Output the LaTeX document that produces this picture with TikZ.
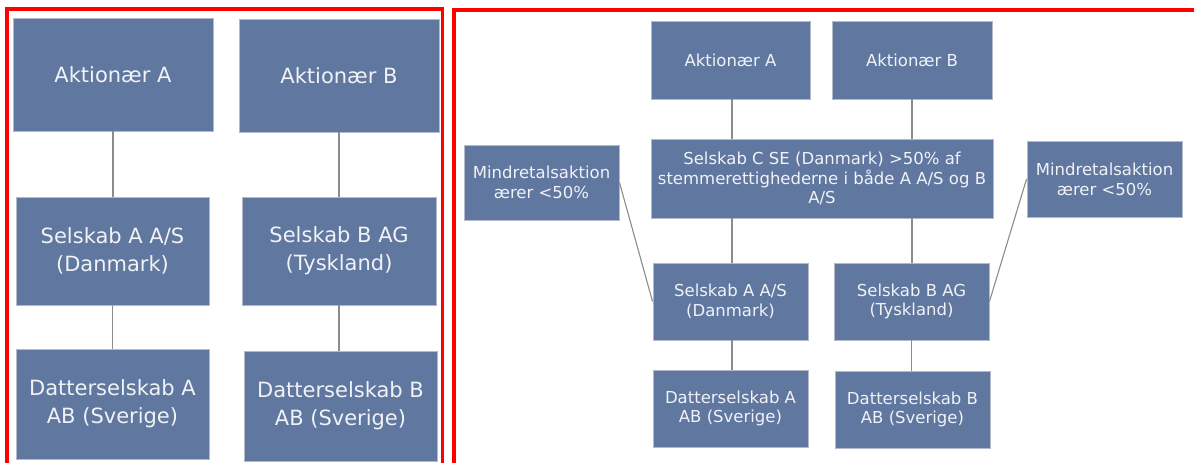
\documentclass[tikz,border=0pt]{standalone}
\usepackage{fontspec}
\setmainfont{DejaVu Sans}
\definecolor{boxfill}{RGB}{96,119,160}
\definecolor{boxedge}{RGB}{178,186,200}
\definecolor{boxtext}{RGB}{240,242,246}
\definecolor{linkgray}{RGB}{140,140,140}
\definecolor{framered}{RGB}{255,0,0}
\tikzset{
  orgbox/.style={draw=boxedge, line width=0.9pt, fill=boxfill, text=boxtext,
    align=center, inner sep=0pt, anchor=center},
  bigbox/.style={orgbox, font=\fontsize{21}{28}\selectfont},
  smallbox/.style={orgbox, font=\fontsize{16.5}{19.8}\selectfont},
  link/.style={draw=linkgray, line width=1.4pt},
  frame/.style={draw=framered, line width=3.6pt}
}
\begin{document}
\begin{tikzpicture}[x=1pt, y=-1pt]
\useasboundingbox (0,0) rectangle (1194,463);
\fill[white] (0,0) rectangle (1194,463);

% two framed panels
\draw[frame] (6.8,475) -- (6.8,8.8) -- (442.6,8.8) -- (442.6,475);
\draw[frame] (1200,10) -- (454,10) -- (454,475);

% left panel: two separate chains
\node[bigbox, minimum width=200pt, minimum height=113pt] (LAA) at (113,74.5) {Aktionær A};
\node[bigbox, minimum width=200pt, minimum height=113pt] (LAB) at (339,75.5) {Aktionær B};
\node[bigbox, minimum width=193pt, minimum height=108pt] (LSA) at (112.5,251) {Selskab A A/S\\(Danmark)};
\node[bigbox, minimum width=194pt, minimum height=108pt] (LSB) at (339,251) {Selskab B AG\\(Tyskland)};
\node[bigbox, minimum width=193pt, minimum height=110pt] (LDA) at (112.5,404) {Datterselskab A\\AB (Sverige)};
\node[bigbox, minimum width=193pt, minimum height=110pt] (LDB) at (340.5,406) {Datterselskab B\\AB (Sverige)};

\draw[link] (LAA.south) -- (LAA.south |- LSA.north);
\draw[link] (LSA.south) -- (LSA.south |- LDA.north);
\draw[link] (LAB.south) -- (LAB.south |- LSB.north);
\draw[link] (LSB.south) -- (LSB.south |- LDB.north);

% right panel: common holding company C
\node[smallbox, minimum width=159pt, minimum height=78pt] (RAA) at (730.5,60) {Aktionær A};
\node[smallbox, minimum width=160pt, minimum height=78pt] (RAB) at (912,60) {Aktionær B};
\node[smallbox, minimum width=342pt, minimum height=79pt] (RC) at (822,178.5)
  {Selskab C SE (Danmark) >50\% af\\stemmerettighederne i både A A/S og B\\A/S};
\node[smallbox, minimum width=155pt, minimum height=75pt] (RML) at (541.5,182.5) {Mindretalsaktion\\ærer <50\%};
\node[smallbox, minimum width=155pt, minimum height=76pt] (RMR) at (1104.5,179) {Mindretalsaktion\\ærer <50\%};
\node[smallbox, minimum width=155pt, minimum height=77pt] (RSA) at (730.5,301.5) {Selskab A A/S\\(Danmark)};
\node[smallbox, minimum width=155pt, minimum height=77pt] (RSB) at (911.5,301.5) {Selskab B AG\\(Tyskland)};
\node[smallbox, minimum width=155pt, minimum height=77pt] (RDA) at (730.5,408.5) {Datterselskab A\\AB (Sverige)};
\node[smallbox, minimum width=155pt, minimum height=77pt] (RDB) at (912.5,409.5) {Datterselskab B\\AB (Sverige)};

\draw[link] ([xshift=1.5pt]RAA.south) -- ([xshift=1.5pt]RAA.south |- RC.north);
\draw[link] ([xshift=1.5pt]RAA.south |- RC.south) -- ([xshift=1.5pt]RAA.south |- RSA.north);
\draw[link] ([xshift=1.5pt]RSA.south) -- ([xshift=1.5pt]RSA.south |- RDA.north);
\draw[link] (RAB.south) -- (RAB.south |- RC.north);
\draw[link] (RAB.south |- RC.south) -- (RAB.south |- RSB.north);
\draw[link] (RSB.south) -- (RSB.south |- RDB.north);
\draw[link, line width=1.1pt] (RML.east) -- (RSA.west);
\draw[link, line width=1.1pt] (RMR.west) -- (RSB.east);
\end{tikzpicture}
\end{document}
